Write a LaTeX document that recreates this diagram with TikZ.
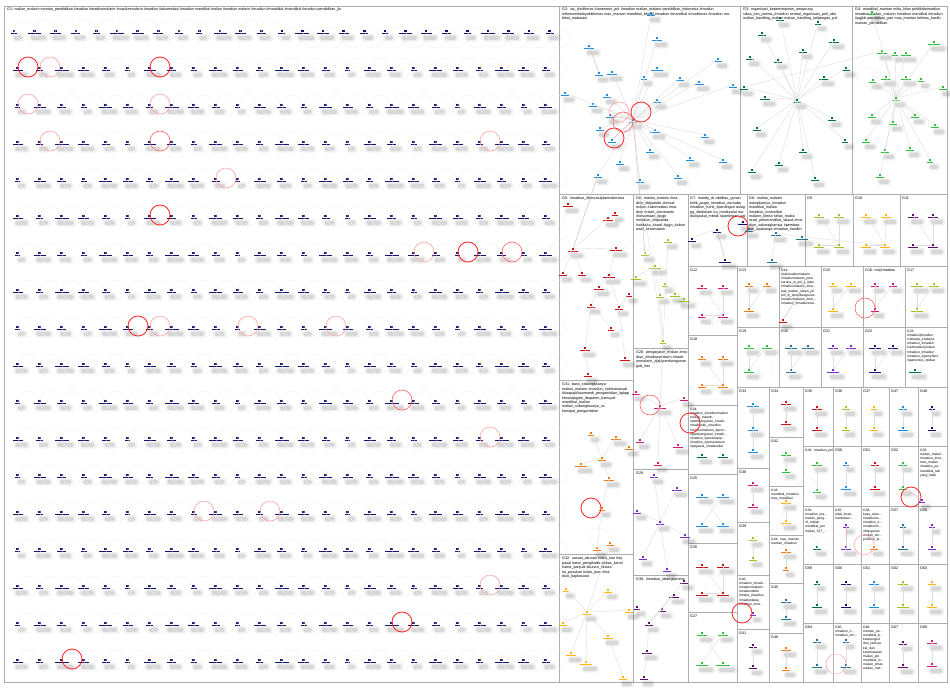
\documentclass[tikz,border=0pt]{standalone}
\usepackage{fontspec}
\setmainfont{Liberation Sans}
\usetikzlibrary{arrows.meta}
\definecolor{cnavy}{HTML}{14146E}
\definecolor{cblue}{HTML}{1E8FE0}
\definecolor{cdgreen}{HTML}{00703C}
\definecolor{cgreen}{HTML}{2DBE3C}
\definecolor{cred}{HTML}{C81414}
\definecolor{cyg}{HTML}{9CC41E}
\definecolor{cgold}{HTML}{FFB400}
\definecolor{cpurple}{HTML}{5E0F6B}
\definecolor{cviolet}{HTML}{7A2FCC}
\definecolor{cmag}{HTML}{D01A7A}
\definecolor{corange}{HTML}{EE7A10}
\definecolor{cteal}{HTML}{25728F}
\definecolor{pinkedge}{HTML}{E2B8BC}
\tikzset{
 frm/.style={draw=black!32,line width=0.9pt},
 edg/.style={draw=black!13,line width=0.4pt},
 pedg/.style={draw=pinkedge,line width=0.5pt},
 loopg/.style={draw=black!6,line width=0.35pt},
 loopl/.style={draw=red!38,line width=0.5pt},
 loopm/.style={draw=red!62,line width=0.6pt},
 loopr/.style={draw=red!85,line width=0.85pt},
 vsq/.style={rectangle,minimum size=2.6pt,inner sep=0pt,outer sep=0pt},
 ttl/.style={anchor=north west,inner sep=0pt,align=left,font=\fontsize{3.7}{4.4}\selectfont},
 ttls/.style={anchor=north west,inner sep=0pt,align=left,font=\fontsize{3.3}{4.1}\selectfont},
 shda/.style={fill=black,opacity=0.05,rounded corners=2pt},
 shdb/.style={fill=black,opacity=0.11,rounded corners=1.5pt},
}
\newcommand{\vx}[5]{%
  \fill[shda] ({#2-#5/2+1.5},{#3+3.2}) rectangle ({#2+#5/2+7},{#3+10.5});
  \fill[shdb] ({#2-#5/2+3},{#3+4.5}) rectangle ({#2+#5/2+5},{#3+9});
  \fill[#4] ({#2-#5/2},{#3+1.9}) rectangle ({#2+#5/2},{#3+2.8});
  \node[vsq,fill=#4] (#1) at (#2,#3) {};
}
\begin{document}
\begin{tikzpicture}[x=1pt,y=-1pt]
\useasboundingbox (0,0) rectangle (950,688);
\fill[white] (0,0) rectangle (950,688);

% ---------------- panel frames ----------------
\draw[frm] (4,6) rectangle (559,682);
\foreach \a/\b/\c/\d in {559/6/740/194,740/6/852/194,852/6/947/194,
 559/194/633/380,633/194/688/348,688/194/747/266,747/194/805/266,805/194/853/266,853/194/900/266,900/194/947/266,
 688/266/737/335,737/266/779/327,779/266/821/327,821/266/863/327,863/266/905/327,905/266/947/327,
 737/327/779/387,779/327/821/387,821/327/863/387,863/327/905/387,905/327/947/387,
 688/335/737/405,688/405/737/474,688/474/737/543,688/543/737/612,688/612/737/682,
 633/348/688/469,633/469/688/575,633/575/688/682,559/380/633/554,559/554/633/682,
 737/387/769/468,769/387/803/437,737/468/769/522,737/522/769/575,737/575/769/629,737/629/769/682,
 769/437/803/486,769/486/803/535,769/535/803/583,769/583/803/633,769/633/803/682}
 {\draw[frm] (\a,\b) rectangle (\c,\d);}
\foreach \a/\c in {803/833,833/861,861/889,889/918,918/947}
 {\foreach \b/\d in {387/446,446/506,506/564,564/623,623/682}{\draw[frm] (\a,\b) rectangle (\c,\d);}}

% ---------------- G1 grid ----------------
\node[ttl] (t1) at (7,8) {G1: malian\_malarin mantan\_pendidikan \#madiun \#madiunmalarin \#madiunmalarin \#madiun \#akomodasi \#madiun mandikal malian \#madiun malarin \#madiun \#mandikal \#mandikal \#madiun pendidikan\_jlo};
\foreach \c in {0,...,26}{%
  \pgfmathsetmacro{\xx}{14+20.6*\c}
  \pgfmathsetmacro{\ww}{6+mod(\c*7,9)}
  \vx{g0-\c}{\xx}{31}{cnavy}{\ww}
  \pgfmathsetmacro{\dy}{ifthenelse(\c<13,-1,7)}
  \draw[loopg] (g0-\c) ++(10,\dy) circle[radius=10];
}
\foreach \r in {1,...,17}{\foreach \c in {0,...,24}{%
  \pgfmathsetmacro{\xx}{17.5+22*\c}
  \pgfmathsetmacro{\yy}{31+37*\r}
  \pgfmathsetmacro{\ww}{5+mod(\r*5+\c*7,10)}
  \vx{g\r-\c}{\xx}{\yy}{cnavy}{\ww}
  \draw[loopg] (g\r-\c) ++(10.5,0) circle[radius=10];
}}
\foreach \r/\c/\s in {1/0/loopr,1/1/loopl,1/6/loopr,2/0/loopl,2/6/loopl,3/1/loopl,3/6/loopm,3/21/loopl,4/9/loopl,5/6/loopr,6/18/loopl,6/20/loopr,6/22/loopm,8/5/loopr,8/6/loopl,8/10/loopl,8/14/loopl,10/17/loopm,11/21/loopl,13/8/loopl,13/11/loopl,15/21/loopl,16/17/loopr,17/2/loopr}
 {\draw[\s] (g\r-\c) ++(10.5,-1) circle[radius=10];}

% ---------------- G2 ----------------
\node[ttl,text width=172pt] (t2) at (562,8) {G2: ius\_sholihmas \#ameranto\_prk \#madiun malian\_malarin pendidikan\_indonesia \#madiun \#ekonomikelayakkikimas mas\_mantan mandikal\_bhiapl \#madiun \#mandikal \#mudikmas \#madiun mobikal\_mabarani};
\vx{b0}{633}{120}{cblue}{8}
\vx{b1}{589}{46}{cblue}{10}
\vx{b2}{657}{38}{cblue}{10}
\vx{b3}{651}{13}{cblue}{8}
\vx{b4}{599}{73}{cblue}{8}
\vx{b5}{612}{72}{cblue}{10}
\vx{b6}{644}{77}{cblue}{6}
\vx{b7}{657}{68}{cblue}{12}
\vx{b8}{680}{78}{cblue}{8}
\vx{b9}{699}{82}{cblue}{10}
\vx{b10}{718}{59}{cblue}{8}
\vx{b11}{733}{85}{cblue}{8}
\vx{b12}{565}{93}{cblue}{8}
\vx{b13}{607}{95}{cblue}{8}
\vx{b14}{593}{104}{cblue}{8}
\vx{b15}{657}{100}{cblue}{8}
\vx{b16}{610}{115}{cblue}{8}
\vx{b17}{600}{128}{cblue}{8}
\vx{b18}{655}{130}{cblue}{10}
\vx{b19}{612}{140}{cblue}{8}
\vx{b20}{650}{150}{cblue}{8}
\vx{b21}{690}{158}{cblue}{8}
\vx{b22}{620}{162}{cblue}{8}
\vx{b23}{598}{175}{cblue}{8}
\vx{b24}{678}{176}{cblue}{8}
\vx{b25}{723}{160}{cblue}{8}
\vx{b26}{705}{135}{cblue}{8}
\vx{b27}{640}{180}{cblue}{8}
\foreach \n in {b2,b3,b5,b6,b7,b8,b9,b10,b11,b12,b13,b14,b15,b16,b17,b18,b19,b20,b21,b22,b23,b24,b25,b26,b27}{\draw[edg] (b0) -- (\n);}
\draw[pedg] (b1) -- (b4);
\draw[pedg] (b16) -- (b0);
\draw[pedg] (b19) -- (b0);
\draw[loopr] (b19) ++(2,-2) circle[radius=10];
\draw[loopm] (b0) ++(-10,2) circle[radius=10];
\draw[loopr] (b0) ++(8,-8) circle[radius=10];
\draw[loopl] (b16) ++(9,-3) circle[radius=10];

% ---------------- G3 ----------------
\node[ttl,text width=106pt] (t3) at (743,8) {G3: organisasi\_kepemimpinan\_amaprung sikas\_sen\_jacinta\_\#madiun sentral\_organisasi\_poll\_aksi malian\_handling\_malian malian\_handling\_kelpengan\_pol};
\vx{d0}{797}{100}{cdgreen}{8}
\vx{d1}{780}{18}{cdgreen}{8}
\vx{d2}{762}{33}{cdgreen}{8}
\vx{d3}{818}{22}{cdgreen}{6}
\vx{d4}{834}{40}{cdgreen}{10}
\vx{d5}{750}{57}{cdgreen}{8}
\vx{d6}{778}{60}{cdgreen}{8}
\vx{d7}{803}{50}{cdgreen}{8}
\vx{d8}{824}{77}{cdgreen}{10}
\vx{d9}{846}{68}{cdgreen}{8}
\vx{d10}{744}{87}{cdgreen}{8}
\vx{d11}{765}{97}{cdgreen}{10}
\vx{d12}{757}{128}{cdgreen}{8}
\vx{d13}{832}{118}{cdgreen}{8}
\vx{d14}{803}{150}{cdgreen}{8}
\vx{d15}{779}{163}{cdgreen}{8}
\vx{d16}{845}{140}{cdgreen}{6}
\vx{d17}{752}{170}{cdgreen}{8}
\vx{d18}{815}{178}{cdgreen}{8}
\foreach \n in {d1,d2,d3,d4,d5,d6,d7,d8,d9,d10,d11,d12,d13,d14,d15,d16,d17,d18}{\draw[edg] (d0) -- (\n);}

% ---------------- G4 ----------------
\node[ttl,text width=90pt] (t4) at (855,8) {G4: mandikal\_mantan mika\_kilan poldikdanmadiun \#madiun malian\_malarin \#madiun mandikal \#madiun \#pgjkb pendidikan\_pan mas\_mantan kelmas\_kaskh mantan\_pendidikan};
\vx{e0}{896}{98}{cgreen}{8}
\vx{e1}{872}{12}{cgreen}{8}
\vx{e2}{882}{51}{cgreen}{10}
\vx{e3}{895}{53}{cgreen}{6}
\vx{e4}{906}{53}{cgreen}{10}
\vx{e5}{934}{42}{cgreen}{12}
\vx{e6}{873}{80}{cgreen}{8}
\vx{e7}{886}{77}{cgreen}{10}
\vx{e8}{906}{77}{cgreen}{10}
\vx{e9}{921}{79}{cgreen}{6}
\vx{e10}{943}{87}{cgreen}{8}
\vx{e11}{872}{115}{cgreen}{8}
\vx{e12}{893}{122}{cgreen}{8}
\vx{e13}{915}{115}{cgreen}{8}
\vx{e14}{935}{125}{cgreen}{8}
\vx{e15}{866}{140}{cgreen}{8}
\vx{e16}{885}{150}{cgreen}{8}
\vx{e17}{910}{148}{cgreen}{8}
\vx{e18}{930}{160}{cgreen}{6}
\vx{e19}{880}{175}{cgreen}{8}
\foreach \n in {e1,e2,e3,e4,e5,e6,e7,e8,e9,e10,e11,e12,e13,e14,e15,e16,e17,e18,e19}{\draw[edg] (e0) -- (\n);}
\draw[loopg] (e6) ++(-5,-3) circle[radius=10];
\draw[edg] (d10) -- (e2);

% ---------------- G5 ----------------
\node[ttl,text width=70pt] (t5) at (562,197) {G5: \#madiun\_\#bersatuijdanindonesia};
\vx{r1}{568}{204}{cred}{10}
\vx{r2}{608}{218}{cred}{10}
\vx{r3}{615}{213}{cred}{6}
\vx{r4}{573}{249}{cred}{10}
\vx{r5}{616}{248}{cred}{12}
\vx{r6}{563}{273}{cred}{8}
\vx{r7}{582}{273}{cred}{8}
\vx{r8}{609}{275}{cred}{12}
\vx{r9}{599}{287}{cred}{10}
\vx{r10}{591}{305}{cred}{8}
\vx{r11}{619}{307}{cred}{8}
\vx{r12}{629}{294}{cred}{6}
\vx{r13}{611}{328}{cred}{6}
\vx{r14}{585}{348}{cred}{10}
\vx{r15}{625}{358}{cred}{10}
\vx{r16}{588}{374}{cred}{8}
\foreach \a/\b in {r4/r2,r4/r6,r4/r7,r4/r5,r5/r8,r8/r9,r9/r10,r10/r14,r14/r16,r8/r11,r11/r12,r11/r15,r10/r13,r2/r3}{\draw[edg] (\a) -- (\b);}
\draw[pedg] (b23) -- (r4);
\draw[loopg] (r4) ++(-12,0) circle[radius=10];

% ---------------- G6 ----------------
\node[ttl,text width=52pt] (t6) at (636,197) {G6: malian\_malarin \#madiun\_\#bijoanda ahmadmatan \#akomodasi \#madiun malari\_\#ameranto \#kesamaan\_\#pgjo \#madiun\_\#bijoanda \#siskaka\_\#awal \#pgjo\_\#alisin awal\_kesamaann};
\vx{y1}{668}{240}{cyg}{8}
\vx{y2}{645}{253}{cyg}{8}
\vx{y3}{655}{266}{cyg}{12}
\vx{y4}{636}{277}{cyg}{10}
\vx{y5}{665}{284}{cyg}{6}
\vx{y6}{660}{295}{cyg}{8}
\vx{y7}{675}{294}{cyg}{10}
\vx{y8}{684}{299}{cyg}{12}
\vx{y9}{663}{341}{cyg}{6}
\foreach \a/\b in {y2/y3,y3/y5,y3/y6,y5/y7,y5/y8,y6/y9,y1/y9,y3/y4}{\draw[edg] (\a) -- (\b);}
\draw[loopg] (y2) ++(-10,-3) circle[radius=10];
\draw[edg] (b27) -- (y9);
\draw[pedg] (b0) -- (y2);

% ---------------- G7 ----------------
\node[ttl,text width=56pt] (t7) at (690,197) {G7: mandy\_dr abdillau\_gunan kolik\_pagar\_\#madiun\_\#arnuba \#madiun\_hanti\_\#pantingan aslug pg\_\#bidukam ka\_madiundal madiunjaskal\_mbrak \#pantingan\_pal};
\vx{n1}{692}{239}{cnavy}{8}
\vx{n2}{717}{230}{cnavy}{8}
\vx{n3}{725}{260}{cnavy}{12}
\vx{n4}{743}{222}{cnavy}{10}
\draw[edg] (n1) to[bend left=10] (n2);
\draw[pedg] (n2) -- (n3);
\draw[edg] (n2) -- (n4);
\draw[loopr] (n4) ++(-5,4) circle[radius=10];

% ---------------- G8 ----------------
\node[ttl,text width=55pt] (t8) at (749,197) {G8: malian\_malarin askopkarnya\_\#madiun mandikal\_malian \#madiun\_\#mandikal malarin\_kleisn kelas\_malas rasal\_pemmandikal\_sbaud \#madiun\_sakaragkarnya \#pembantuk\_\#pakanga \#madiun\_\#astikh};
\vx{t1}{749}{229}{cteal}{8}
\vx{t2}{776}{233}{cteal}{10}
\vx{t3}{802}{237}{cteal}{12}
\vx{t4}{772}{260}{cteal}{10}
\draw[edg] (t2) -- (t4);
\draw[edg] (t3) -- (t2);

% ---------------- G9-G11 ----------------
\node[ttl] (t9) at (807,197) {G9};
\vx{a1}{819}{215}{cyg}{10}
\vx{a2}{839}{215}{cyg}{10}
\vx{a3}{819}{245}{cyg}{10}
\vx{a4}{839}{245}{cyg}{10}
\draw[edg] (a2) -- (a4);
\draw[edg] (a1) -- (a4);
\draw[edg] (a3) -- (a4);
\node[ttl] (t10) at (855,197) {G10};
\vx{c1}{866}{215}{cgold}{10}
\vx{c2}{886}{215}{cgold}{10}
\vx{c3}{866}{245}{cgold}{10}
\vx{c4}{885}{245}{cgold}{10}
\draw[edg] (c2) -- (c4);
\draw[edg] (c1) -- (c4);
\draw[edg] (c3) -- (c4);
\draw[edg] (t3) -- (c4);
\node[ttl] (t11) at (902,197) {G11};
\vx{p1}{913}{215}{cpurple}{10}
\vx{p2}{933}{215}{cpurple}{10}
\vx{p3}{913}{245}{cpurple}{10}
\vx{p4}{933}{245}{cpurple}{10}
\draw[edg] (p2) -- (p4);
\draw[edg] (p1) -- (p4);
\draw[edg] (p3) -- (p4);

% ---------------- row 3 ----------------
\node[ttl] (t12) at (690,269) {G12};
\vx{m1}{702}{286}{cmag}{10}
\vx{m2}{723}{286}{cmag}{10}
\vx{m3}{702}{315}{cmag}{8}
\vx{m4}{723}{315}{cmag}{10}
\draw[edg] (m2) -- (m4);
\draw[edg] (m1) -- (m4);
\draw[edg] (m3) -- (m4);
\draw[loopg] (m3) ++(11,-3) circle[radius=10];
\node[ttl] (t13) at (739,269) {G13};
\vx{o1}{749}{284}{corange}{8}
\vx{o2}{767}{284}{corange}{8}
\vx{o3}{749}{309}{corange}{10}
\draw[edg] (o2) -- (o3);
\draw[edg] (o1) -- (o3);
\node[ttls,text width=40pt] (t14) at (781,269) {G14:\\\#ju|\#madiunmalarin\\\#madiunmalarin\_pma\\sarana\_\#j\_pol\_jl\_\#jam\\\#madiunmalarin\_\#ma...\\pak\_malian\_malari\_jal\\pol\_\#j\_\#pembangunan\\\#madiunmalarin\_\#ma...\\\#madiun\_\#madiunmal...};
\vx{q1}{783}{320}{cred}{8}
\coordinate (q0) at (803,288);
\draw[pedg] (q0) -- (q1);
\node[ttl] (t15) at (823,269) {G15};
\vx{u1}{833}{284}{cgold}{8}
\vx{u2}{851}{284}{cgold}{10}
\vx{u3}{833}{309}{cgold}{10}
\draw[edg] (u2) -- (u3);
\draw[edg] (u1) -- (u3);
\node[ttl] (t16) at (865,269) {G16: ma|\#madiun};
\vx{v1}{875}{284}{cmag}{8}
\vx{v2}{893}{284}{cmag}{8}
\vx{v3}{875}{309}{cmag}{8}
\draw[edg] (v2) -- (v3);
\draw[edg] (v1) -- (v3);
\draw[loopm] (v3) ++(-10,-1) circle[radius=10];
\node[ttl] (t17) at (907,269) {G17};
\vx{w1}{917}{284}{cyg}{12}
\vx{w2}{934}{284}{cyg}{10}
\vx{w3}{917}{309}{cyg}{12}
\draw[edg] (w2) -- (w3);
\draw[edg] (w1) -- (w3);
\draw[loopg] (w3) ++(-10,0) circle[radius=10];

% ---------------- row 4 ----------------
\node[ttl] (t18) at (690,338) {G18};
\vx{k1}{702}{357}{corange}{8}
\vx{k2}{723}{357}{corange}{10}
\vx{k3}{702}{385}{corange}{8}
\vx{k4}{723}{385}{corange}{10}
\draw[edg] (k2) -- (k4);
\draw[edg] (k1) -- (k4);
\draw[edg] (k3) -- (k4);
\node[ttl] (t19) at (739,330) {G19};
\vx{h1}{749}{346}{cgreen}{10}
\vx{h2}{767}{346}{cgreen}{10}
\vx{h3}{749}{370}{cgreen}{10}
\draw[edg] (h2) -- (h3);
\draw[edg] (h1) -- (h3);
\node[ttl] (t20) at (781,330) {G20};
\vx{s1}{791}{346}{cteal}{12}
\vx{s2}{808}{346}{cteal}{12}
\vx{s3}{791}{370}{cteal}{10}
\draw[edg] (s2) -- (s3);
\draw[edg] (s1) -- (s3);
\draw[loopg] (s3) ++(-10,-2) circle[radius=10];
\node[ttl] (t21) at (823,330) {G21};
\vx{x1}{833}{346}{cviolet}{10}
\vx{x2}{851}{346}{cviolet}{10}
\vx{x3}{833}{370}{cviolet}{12}
\draw[edg] (x2) -- (x3);
\draw[edg] (x1) -- (x3);
\node[ttl] (t22) at (865,330) {G22};
\vx{z1}{875}{346}{cnavy}{12}
\vx{z2}{893}{346}{cnavy}{10}
\vx{z3}{875}{370}{cnavy}{12}
\draw[edg] (z2) -- (z3);
\draw[edg] (z1) -- (z3);
\node[ttls,text width=40pt] (t23) at (907,330) {G23:\\\#madiun|\#madiun\\\#Jakarta\_\#Jakarta\\\#madiun\_\#madiun\\ku|\#madiun|\#Jakar\\\#madiun\_\#madiun\\\#madiun\_\#gamerbox\\\#gamerbox\_\#pilkar};
\vx{f1}{915}{370}{cdgreen}{12}

% ---------------- column 688-737 ----------------
\node[ttls,text width=47pt] (t24) at (690,408) {G24:\\\#madiun\_\#madiunmalarin\\malian\_malarin\\\#pembangunan\_\#madi...\\\#madiunbu\_\#madiun\\\#madiunmalarin\_\#pem...\\\#pembangunan\_\#madi...\\\#madiun\_\#peramanip...\\\#madiun\_\#pemantauan\\\#pegawai\_\#madiunkal};
\vx{i1}{702}{455}{cdgreen}{10}
\vx{i2}{723}{455}{cdgreen}{10}
\draw[loopr] (i1) ++(-12,-32) circle[radius=10];
\node[ttl] (t25) at (690,477) {G25};
\vx{j1}{702}{495}{cblue}{12}
\vx{j2}{723}{495}{cblue}{12}
\vx{j3}{702}{524}{cblue}{12}
\vx{j4}{723}{524}{cblue}{12}
\draw[edg] (j1) -- (j4);
\draw[edg] (j2) -- (j3);
\node[ttl] (t26) at (690,546) {G26};
\vx{l1}{702}{565}{cred}{12}
\vx{l2}{723}{565}{cred}{12}
\vx{l3}{702}{593}{cred}{12}
\vx{l4}{723}{593}{cred}{12}
\draw[edg] (l2) -- (l4);
\draw[edg] (l1) -- (l4);
\draw[edg] (l3) -- (l4);
\draw[loopg] (l4) ++(-8,-8) circle[radius=10];
\node[ttl] (t27) at (690,615) {G27};
\vx{s5}{702}{633}{cgreen}{10}
\vx{s6}{723}{633}{cgreen}{10}
\vx{s7}{702}{663}{cgreen}{12}
\vx{s8}{723}{663}{cgreen}{14}
\draw[edg] (s5) -- (s8);
\draw[edg] (s6) -- (s7);

% ---------------- column 633-688 ----------------
\node[ttl,text width=52pt] (t28) at (636,351) {G28: pengarjalan\_malian \#madiun\_\#madiunmalarin \#madiunmalarin\_\#ja|\#pembangunan gub\_itas};
\vx{mg1}{636}{392}{cmag}{8}
\vx{mg0}{660}{406}{cmag}{12}
\vx{mg2}{684}{398}{cmag}{8}
\vx{mg3}{640}{440}{cmag}{8}
\vx{mg4}{678}{445}{cmag}{10}
\vx{mg5}{658}{463}{cmag}{8}
\foreach \n in {mg1,mg2,mg3,mg4,mg5}{\draw[edg] (mg0) -- (\n);}
\draw[loopm] (mg0) ++(-10,-1) circle[radius=10];
\draw[edg] (y9) -- (mg0);
\node[ttl] (t29) at (636,472) {G29};
\vx{pv1}{654}{475}{cviolet}{8}
\vx{pv2}{677}{488}{cviolet}{10}
\vx{pv3}{637}{511}{cviolet}{8}
\vx{pv0}{660}{522}{cviolet}{8}
\vx{pv4}{685}{535}{cviolet}{10}
\vx{pv5}{643}{557}{cviolet}{8}
\vx{pv6}{667}{569}{cviolet}{8}
\foreach \n in {pv1,pv2,pv3,pv4,pv5,pv6}{\draw[edg] (pv0) -- (\n);}
\node[ttl,text width=52pt] (t30) at (636,578) {G30: \#madiun\_\#bangkamma};
\vx{pp1}{684}{581}{cpurple}{8}
\vx{pp2}{674}{595}{cpurple}{10}
\vx{pp3}{637}{607}{cpurple}{6}
\vx{pp4}{662}{609}{cpurple}{8}
\vx{pp0}{649}{623}{cpurple}{8}
\vx{pp5}{647}{651}{cpurple}{10}
\vx{pp6}{644}{677}{cpurple}{8}
\foreach \n in {pp1,pp2,pp3,pp4,pp5}{\draw[edg] (pp0) -- (\n);}
\draw[edg] (pp5) -- (pp6);

% ---------------- column 559-633 lower ----------------
\node[ttl,text width=70pt] (t31) at (562,383) {G31: bass\_ssbangkaunya malian\_malarin \#madiun\_\#ahmaniasub \#kaupaji\#kaumandi\_pengambilan\_kpkpp kesautjagam\_ibupaten\_kamupal mandikal\_malian malian\_ssbangkaunya\_ss kenupal\_pengambilan};
\vx{or1}{591}{433}{corange}{6}
\vx{or2}{616}{437}{corange}{10}
\vx{or3}{629}{447}{corange}{8}
\vx{or4}{602}{458}{corange}{8}
\vx{or5}{581}{464}{corange}{12}
\vx{or6}{609}{478}{corange}{10}
\vx{or7}{602}{508}{corange}{6}
\vx{or8}{610}{543}{corange}{8}
\vx{or9}{597}{548}{corange}{8}
\foreach \a/\b in {or4/or1,or4/or2,or4/or5,or2/or3,or4/or6,or6/or7,or7/or9}{\draw[edg] (\a) -- (\b);}
\draw[loopr] (or7) ++(-11,0) circle[radius=10];
\draw[loopg] (or9) ++(3,-10) circle[radius=10];
\node[ttl,text width=70pt] (t32) at (562,557) {G32: sasaal\_akunan kiskik\_kan kikjpasal kanoi\_pengikade sikkas\_kanoi nama\_panjual akunan\_\#kisaa ke\_pasukan kulan\_pias \#madiun\_bajikosaral};
\vx{gd0}{587}{612}{cgold}{8}
\vx{gd1}{566}{589}{cgold}{6}
\vx{gd2}{608}{590}{cgold}{8}
\vx{gd3}{629}{610}{cgold}{8}
\vx{gd4}{563}{623}{cgold}{8}
\vx{gd5}{608}{636}{cgold}{10}
\vx{gd6}{571}{653}{cgold}{10}
\vx{gd7}{586}{662}{cgold}{12}
\vx{gd8}{623}{677}{cgold}{8}
\foreach \n in {gd1,gd2,gd3,gd4,gd5,gd6,gd7}{\draw[edg] (gd0) -- (\n);}
\draw[edg] (gd5) -- (gd8);
\draw[edg] (or8) -- (gd0);

% ---------------- column 737-769 ----------------
\node[ttl] (t33) at (739,390) {G33};
\vx{bl1}{753}{404}{cblue}{12}
\vx{bl2}{753}{428}{cblue}{10}
\vx{bl3}{753}{450}{cblue}{10}
\draw[edg] (bl1) -- (bl2);
\draw[edg] (bl2) -- (bl3);
\node[ttl] (t38) at (739,471) {G38};
\vx{mm1}{753}{483}{cmag}{10}
\vx{mm2}{753}{505}{cmag}{10}
\draw[edg] (mm1) -- (mm2);
\node[ttl] (t39) at (739,525) {G39};
\vx{yy1}{753}{538}{cyg}{8}
\vx{yy2}{753}{558}{cyg}{8}
\draw[edg] (yy1) -- (yy2);
\node[ttls,text width=30pt] (t40) at (739,578) {G40:\\\#madiun\_\#madi...\\\#madiunmalarin\\\#madiundebu\\\#maha\_\#madiun\\\#madiunbalaj\\\#madiun\_\#ma...};
\vx{vv1}{753}{613}{cviolet}{6}
\draw[loopr] (vv1) ++(-11,0) circle[radius=10];
\node[ttl] (t41) at (739,632) {G41};
\vx{pq1}{753}{645}{cpurple}{8}
\vx{pq2}{753}{666}{cpurple}{8}
\draw[edg] (pq1) -- (pq2);

% ---------------- column 769-803 ----------------
\node[ttl] (t34) at (771,390) {G34};
\vx{rr1}{786}{402}{cred}{10}
\vx{rr2}{786}{422}{cred}{10}
\draw[edg] (rr1) -- (rr2);
\node[ttl] (t42) at (771,440) {G42};
\vx{gg1}{786}{453}{cgreen}{10}
\vx{gg2}{786}{470}{cgreen}{8}
\draw[edg] (gg1) -- (gg2);
\node[ttls,text width=32pt] (t43) at (771,489) {G43:\\mandikal\_\#madiun\\mas\_mandikal};
\vx{yl1}{786}{501}{cgold}{10}
\vx{yl2}{786}{521}{cgold}{10}
\draw[edg] (yl1) -- (yl2);
\draw[loopg] (yl2) ++(-11,-1) circle[radius=10];
\node[ttls,text width=32pt] (t44) at (771,538) {G44: mas\_mantan\\mantan\_\#madiun};
\vx{oo1}{786}{550}{corange}{10}
\vx{oo2}{786}{568}{corange}{6}
\draw[edg] (oo1) -- (oo2);
\node[ttl] (t45) at (771,586) {G45};
\vx{tt1}{786}{600}{cteal}{10}
\vx{tt2}{786}{617}{cteal}{10}
\draw[edg] (tt1) -- (tt2);
\node[ttl] (t46) at (771,636) {G46};
\vx{oq1}{786}{648}{corange}{10}
\vx{oq2}{786}{668}{corange}{8}
\draw[edg] (oq1) -- (oq2);

% ---------------- row 5 (387-446) ----------------
\node[ttl] (t35) at (805,390) {G35};
\vx{ra1}{817}{407}{cred}{10}
\vx{ra2}{817}{428}{cred}{10}
\draw[edg] (ra1) -- (ra2);
\node[ttl] (t36) at (835,390) {G36};
\vx{ya1}{846}{407}{cyg}{8}
\vx{ya2}{846}{428}{cyg}{8}
\draw[edg] (ya1) -- (ya2);
\node[ttl] (t37) at (863,390) {G37};
\vx{ga1}{874}{407}{cgold}{6}
\vx{ga2}{874}{428}{cgold}{8}
\draw[edg] (ga1) -- (ga2);
\node[ttl] (t47) at (891,390) {G47};
\vx{ba1}{903}{407}{cblue}{8}
\vx{ba2}{903}{428}{cblue}{10}
\draw[edg] (ba1) -- (ba2);
\node[ttl] (t48) at (920,390) {G48};
\vx{na1}{932}{407}{cnavy}{6}
\vx{na2}{932}{428}{cnavy}{8}
\draw[edg] (na1) -- (na2);

% ---------------- row 6 (446-506) ----------------
\node[ttls,text width=28pt] (t49) at (805,449) {G49: \#madiun\_pol};
\vx{gb1}{817}{463}{cgreen}{10}
\vx{gb2}{817}{490}{cgreen}{8}
\draw[edg] (gb1) -- (gb2);
\draw[loopg] (gb2) ++(-10,-2) circle[radius=10];
\node[ttl] (t50) at (835,449) {G50};
\vx{bb1}{846}{463}{cblue}{6}
\vx{bb2}{846}{487}{cblue}{10}
\draw[edg] (bb1) -- (bb2);
\node[ttl] (t51) at (863,449) {G51};
\vx{rb1}{875}{463}{cred}{8}
\vx{rb2}{875}{487}{cred}{10}
\draw[edg] (rb1) -- (rb2);
\node[ttl] (t52) at (891,449) {G52};
\vx{gc1}{903}{463}{cgreen}{8}
\vx{gc2}{903}{487}{cgreen}{8}
\draw[edg] (gc1) -- (gc2);
\draw[loopr] (gc2) ++(8,10) circle[radius=10];
\node[ttls,text width=28pt] (t53) at (920,449) {G53:\\malian\_malari...\\\#madiun\_\#ma...\\mas\_malian\\\#madiun\_pe...\\mandikal\_tab\\yang\_tidak};
\vx{vc1}{922}{500}{cviolet}{6}
\draw[pedg] (gc2) -- (vc1);

% ---------------- row 7 (506-564) ----------------
\node[ttls,text width=28pt] (t54) at (805,509) {G54:\\\#madiun\_ma...\\malian\_peng...\\of\_malian\\mandikal\_pol\\malian\_527\_...};
\vx{td1}{817}{547}{cdgreen}{8}
\draw[loopg] (td1) ++(-9,-2) circle[radius=10];
\node[ttls,text width=26pt] (t55) at (835,509) {G55:\\lokal\_kesb...\\hambatan...};
\vx{vd1}{846}{525}{cviolet}{6}
\vx{vd2}{846}{547}{cviolet}{10}
\draw[pedg] (vd1) -- (vd2);
\draw[loopg] (vd2) ++(-9,-2) circle[radius=10];
\node[ttls,text width=26pt] (t56) at (863,509) {G56:\\kasa\_seka...\\\#madiunm...\\\#madiun\_\#...\\\#madiunm...\\\#bangunan\\malian\_\#m...\\pol2024\_pi...};
\vx{od1}{874}{547}{corange}{8}
\draw[loopl] (od1) ++(-10,-2) circle[radius=10];
\node[ttl] (t57) at (891,509) {G57};
\vx{te1}{903}{525}{cteal}{6}
\vx{te2}{903}{547}{cteal}{10}
\draw[edg] (te1) -- (te2);
\node[ttl] (t58) at (920,509) {G58};
\vx{pe1}{932}{525}{cviolet}{6}
\vx{pe2}{932}{547}{cviolet}{8}
\draw[edg] (pe1) -- (pe2);

% ---------------- row 8 (564-623) ----------------
\node[ttl] (t59) at (805,567) {G59};
\vx{df1}{817}{582}{cdgreen}{6}
\vx{df2}{817}{605}{cdgreen}{10}
\draw[edg] (df1) -- (df2);
\node[ttl] (t60) at (835,567) {G60};
\vx{nf1}{846}{582}{cnavy}{10}
\vx{nf2}{846}{605}{cnavy}{10}
\draw[edg] (nf1) -- (nf2);
\node[ttl] (t61) at (863,567) {G61};
\vx{bf1}{874}{582}{cblue}{10}
\vx{bf2}{874}{605}{cblue}{10}
\draw[edg] (bf1) -- (bf2);
\node[ttl] (t62) at (891,567) {G62};
\vx{yf1}{903}{582}{cyg}{10}
\vx{yf2}{903}{605}{cyg}{12}
\draw[edg] (yf1) -- (yf2);
\node[ttl] (t63) at (920,567) {G63};
\vx{gf1}{932}{582}{cgold}{8}
\vx{gf2}{932}{605}{cgold}{10}
\draw[edg] (gf1) -- (gf2);

% ---------------- row 9 (623-682) ----------------
\node[ttl] (t64) at (805,626) {G64};
\vx{tg1}{817}{640}{cteal}{8}
\vx{tg2}{817}{665}{cteal}{10}
\draw[edg] (tg1) -- (tg2);
\draw[loopl] (tg2) ++(19,-1) circle[radius=10];
\node[ttls,text width=26pt] (t65) at (835,626) {G65:\\\#madiun\_\#...\\\#madiun\_\#m...};
\vx{th1}{846}{640}{cteal}{6}
\vx{th2}{846}{665}{cteal}{10}
\draw[edg] (th1) -- (th2);
\draw[loopg] (th2) ++(-9,-1) circle[radius=10];
\node[ttls,text width=26pt] (t66) at (863,626) {G66:\\mantan\_pe...\\mandikal\_b...\\kesbangpol\\dan\_lainnya\\kal\_dan\\keterbatasan\\malian\_pol\\mandikal\_m...\\malian\_\#mas\\malian\_mal...};
\node[ttl] (t67) at (891,626) {G67};
\vx{pg1}{903}{642}{cpurple}{8}
\vx{pg2}{903}{665}{cpurple}{10}
\draw[edg] (pg1) -- (pg2);
\node[ttl] (t68) at (920,626) {G68};
\vx{mh1}{932}{641}{cmag}{10}
\vx{mh2}{932}{664}{cmag}{10}
\draw[edg] (mh1) -- (mh2);
\end{tikzpicture}
\end{document}
